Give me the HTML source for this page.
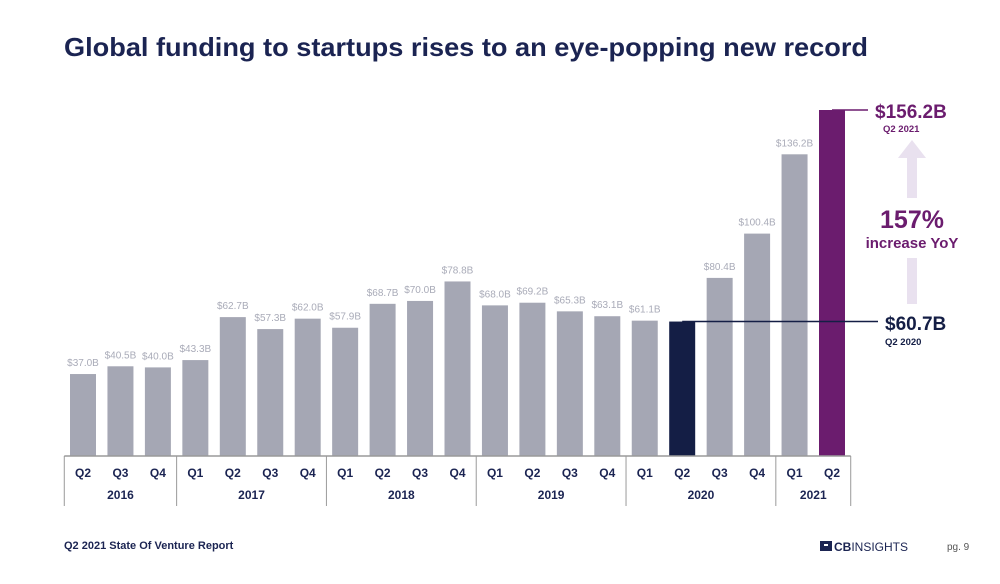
<!DOCTYPE html>
<html><head><meta charset="utf-8"><style>
html,body{margin:0;padding:0;background:#fff;}
svg{display:block;font-family:"Liberation Sans",sans-serif;}
</style></head><body>
<svg id="chart" width="1000" height="584" viewBox="0 0 1000 584">
<text x="64" y="56" font-size="26" font-weight="bold" fill="#1b2452" textLength="804" lengthAdjust="spacingAndGlyphs">Global funding to startups rises to an eye-popping new record</text>
<g id="bars"></g>
<g id="axis"></g>
<g>
  <polygon points="912,140 926,158 917,158 917,198 907,198 907,158 898,158" fill="#e9e1ef"/>
  <rect x="907" y="258" width="10" height="46" fill="#e9e1ef"/>
  <text x="912" y="228" text-anchor="middle" font-size="25" font-weight="bold" fill="#6b1c6e">157%</text>
  <text x="912" y="248" text-anchor="middle" font-size="15" font-weight="bold" fill="#6b1c6e">increase YoY</text>
  <text x="875" y="118" font-size="19" font-weight="bold" fill="#6b1c6e">$156.2B</text>
  <text x="883" y="132" font-size="9.5" font-weight="bold" fill="#6b1c6e">Q2 2021</text>
  <text x="885" y="330" font-size="19" font-weight="bold" fill="#141e45">$60.7B</text>
  <text x="885" y="345" font-size="9.5" font-weight="bold" fill="#141e45">Q2 2020</text>
</g>
<text x="64" y="549" font-size="11" font-weight="bold" fill="#1b2452">Q2 2021 State Of Venture Report</text>
<g>
  <rect x="820" y="541" width="12" height="10" fill="#1b2452"/>
  <rect x="824" y="544" width="4" height="2" fill="#fff"/>
  <text x="834" y="551" font-size="12" fill="#1b2452"><tspan font-weight="bold">CB</tspan>INSIGHTS</text>
</g>
<text x="947" y="550" font-size="10" fill="#555">pg. 9</text>
</svg>
<script>
const quarters=["Q2","Q3","Q4","Q1","Q2","Q3","Q4","Q1","Q2","Q3","Q4","Q1","Q2","Q3","Q4","Q1","Q2","Q3","Q4","Q1","Q2"];
const values=[37.0,40.5,40.0,43.3,62.7,57.3,62.0,57.9,68.7,70.0,78.8,68.0,69.2,65.3,63.1,61.1,60.7,80.4,100.4,136.2,156.2];
const labels=["$37.0B","$40.5B","$40.0B","$43.3B","$62.7B","$57.3B","$62.0B","$57.9B","$68.7B","$70.0B","$78.8B","$68.0B","$69.2B","$65.3B","$63.1B","$61.1B","","$80.4B","$100.4B","$136.2B",""];
const years=["2016","2017","2018","2019","2020","2021"];
const yearCounts=[3,4,4,4,4,2];
const NS="http://www.w3.org/2000/svg";
const x0=70,pitch=37.45,bw=26,base=456,scale=346/156.2;
const xs=i=>x0+i*pitch;
const ys=v=>base-v*scale;
function mk(t,a,p){const e=document.createElementNS(NS,t);for(const k in a)e.setAttribute(k,a[k]);p.appendChild(e);return e;}
const bars=document.getElementById('bars'),axis=document.getElementById('axis');
values.forEach((v,i)=>{
  const fill=i===16?"#141e45":(i===20?"#6b1c6e":"#a5a7b4");
  const r=mk('rect',{x:xs(i),y:ys(v),width:bw,height:base-ys(v),fill:fill},bars);
  
  
  if(labels[i]){
    const t=mk('text',{x:xs(i)+bw/2,y:ys(v)-8,'text-anchor':'middle','font-size':10,fill:'#a9abb8'},bars);
    t.textContent=labels[i];
    
    
  }
  const q=mk('text',{x:xs(i)+bw/2,y:477,'text-anchor':'middle','font-size':12,'font-weight':'bold',fill:'#1b2452'},axis);
  q.textContent=quarters[i];
  
  
});
const sep=i=>xs(i)-(pitch-bw)/2;
const bl=mk('line',{x1:sep(0),x2:sep(values.length),y1:base,y2:base,stroke:'#9a9a9a','stroke-width':1.5},axis);


let idx=0;
years.forEach((y,k)=>{
  const s=idx,e=idx+yearCounts[k];
  const l=mk('line',{x1:sep(s),x2:sep(s),y1:base,y2:506,stroke:'#9a9a9a','stroke-width':1},axis);
  
  
  const t=mk('text',{x:(sep(s)+sep(e))/2,y:499,'text-anchor':'middle','font-size':12,'font-weight':'bold',fill:'#1b2452'},axis);
  t.textContent=y;
  
  
  idx=e;
});
const le=mk('line',{x1:sep(idx),x2:sep(idx),y1:base,y2:506,stroke:'#9a9a9a','stroke-width':1},axis);


// annotation leader lines
const l1=mk('line',{x1:xs(16)+bw/2,x2:878,y1:ys(values[16]),y2:ys(values[16]),stroke:'#141e45','stroke-width':1.5},bars);


const l2=mk('line',{x1:xs(20)+bw/2,x2:868,y1:ys(values[20]),y2:ys(values[20]),stroke:'#6b1c6e','stroke-width':1.5},bars);


</script>
</body></html>
